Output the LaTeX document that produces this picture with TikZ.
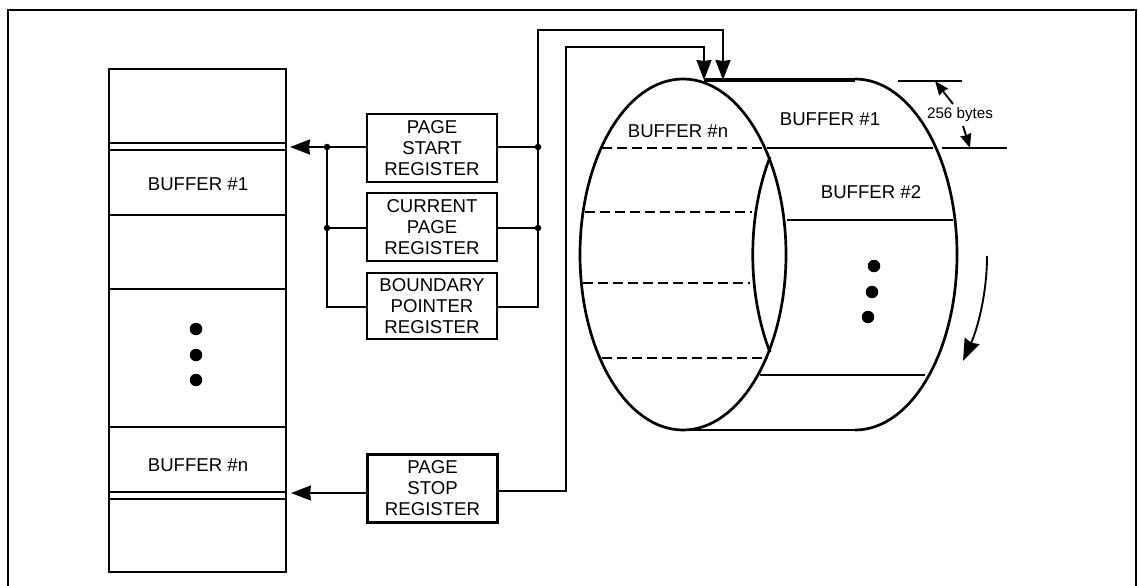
\documentclass[tikz,border=0pt]{standalone}
\usepackage{fontspec}
\setmainfont{Liberation Sans}
\usetikzlibrary{arrows.meta}
\tikzset{
  regbox/.style={draw,line width=2.3pt,minimum width=130pt,minimum height=68pt,inner sep=0pt,align=center,font=\fontsize{18.6}{21}\selectfont},
  buflabel/.style={inner sep=0pt,font=\fontsize{18.6}{21}\selectfont},
  thin line/.style={line width=1.6pt},
  wire/.style={line width=1.9pt},
  wirearrow/.style={wire,-{Stealth[length=20pt,width=15pt,inset=1pt]}},
  smallarrow/.style={wire,-{Stealth[length=14pt,width=11pt,inset=1pt]}},
  rim/.style={line width=2.7pt},
  dashline/.style={line width=1.9pt,dash pattern=on 10pt off 5pt},
  junction/.style={circle,fill,inner sep=0pt,minimum size=6.5pt},
  bigdot/.style={circle,fill,inner sep=0pt,minimum size=12.5pt}
}
\begin{document}
\begin{tikzpicture}[x=1pt,y=-1pt]
\useasboundingbox (0,0) rectangle (1138,586);
% frame
\draw[line width=2.6pt] (8,586) -- (8,10) -- (1136,10) -- (1136,586);
% left stack
\draw[line width=2.2pt] (109,69) rectangle (286,572);
\foreach \yy in {143,150,215,289,427,492,499}{
  \draw[thin line] (109,\yy) -- (286,\yy);
}
\node[buflabel] (lb1) at (198,184) {BUFFER \#1};
\node[buflabel] (lbn) at (198,465) {BUFFER \#n};
\node[bigdot] (ld1) at (196,329) {};
\node[bigdot] (ld2) at (196,355) {};
\node[bigdot] (ld3) at (196,380) {};
% registers
\node[regbox] (pstart) at (432,148) {PAGE\\START\\REGISTER};
\node[regbox] (cur) at (432,227) {CURRENT\\PAGE\\REGISTER};
\node[regbox,minimum height=66pt] (bnd) at (432,306) {BOUNDARY\\POINTER\\REGISTER};
\node[regbox] (pstop) at (432.5,488.5) {PAGE\\STOP\\REGISTER};
% junctions and free ends
\coordinate (stT) at (290,147);
\coordinate (spT) at (291,493);
\node[junction] (jl1) at (327,147) {};
\node[junction] (jl2) at (327,228) {};
\node[junction] (jr1) at (538,147) {};
\node[junction] (jr2) at (538,228) {};
\coordinate (jl3) at (327,307);
\coordinate (jr3) at (538,307);
\coordinate (t1) at (704,80);
\coordinate (t2) at (723,80);
% wires
\draw[wirearrow] (pstart.west |- jl1) -- (stT);
\draw[wire] (jl1) -- (jl3) -- (bnd.west |- jl3);
\draw[wire] (jl2) -- (cur.west |- jl2);
\draw[wire] (pstart.east |- jr1) -- (jr1);
\draw[wire] (cur.east |- jr2) -- (jr2);
\draw[wirearrow] (bnd.east |- jr3) -- (jr3) -- (538,30) -| (t2);
\draw[wirearrow] (pstop.west |- spT) -- (spT);
\draw[wirearrow] (pstop.east |- 0,491) -| (566,47) -| (t1);
% cylinder
\draw[rim] (683,79) arc[start angle=-90,end angle=270,x radius=103,y radius=175.5];
\draw[rim] (855,79) arc[start angle=-90,end angle=90,x radius=102,y radius=175.5];
\draw[rim] (770,157) arc[start angle=-146.2,end angle=-213.8,x radius=102,y radius=175.5];
\draw[line width=4pt] (704,79.8) -- (855,79.8);
\draw[rim] (683,430) -- (855,430);
\foreach \xa/\xb/\yy in {769/933/148,787/953/220,760/925/375}{
  \draw[wire] (\xa,\yy) -- (\xb,\yy);
}
\foreach \xa/\xb/\yy in {602/769/148,585/752/212,583/750/283,602/768/358}{
  \draw[dashline] (\xa,\yy) -- (\xb,\yy);
}
\node[buflabel] (rb1) at (830,119) {BUFFER \#1};
\node[buflabel] (rb2) at (871,192) {BUFFER \#2};
\node[buflabel] (rbn) at (678,131) {BUFFER \#n};
\node[bigdot] (rd1) at (874,266) {};
\node[bigdot] (rd2) at (872,292) {};
\node[bigdot] (rd3) at (868,317) {};
% dimension
\coordinate (d1a) at (898,81); \coordinate (d1b) at (962,81);
\coordinate (d2a) at (942,148); \coordinate (d2b) at (1007,148);
\draw[wire] (d1a) -- (d1b);
\draw[wire] (d2a) -- (d2b);
\node[inner sep=0pt,font=\fontsize{15.2}{17}\selectfont] (bytes) at (960,115) {256 bytes};
\coordinate (a1) at (935,81); \coordinate (a2) at (970,148);
\draw[smallarrow] (953,104) -- (a1);
\draw[smallarrow] (963,126) -- (a2);
% rotation arrow
\coordinate (rota) at (987,256); \coordinate (rotb) at (963,361);
\draw[wire,-{Stealth[length=22pt,width=16pt,inset=2pt]}] (rota) .. controls (987,295) and (977,330) .. (rotb);
\end{tikzpicture}
\end{document}
